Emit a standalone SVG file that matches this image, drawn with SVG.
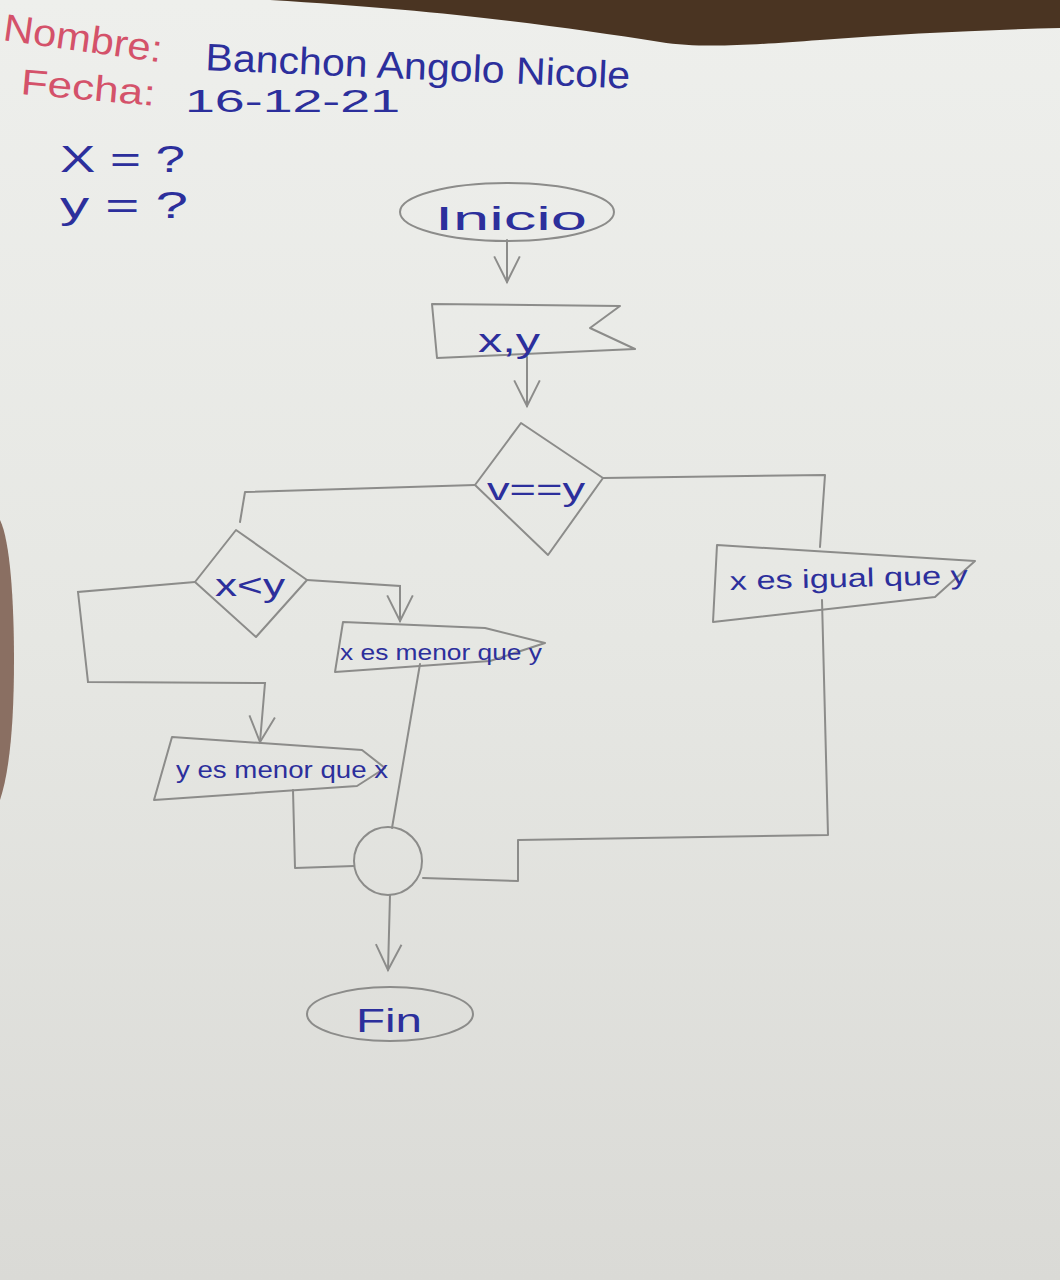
<svg xmlns="http://www.w3.org/2000/svg" width="1060" height="1280" viewBox="0 0 1060 1280">
  <defs>
    <linearGradient id="paper" x1="0" y1="0" x2="0" y2="1">
      <stop offset="0" stop-color="#eeefec"/>
      <stop offset="0.5" stop-color="#e6e7e3"/>
      <stop offset="1" stop-color="#dadad6"/>
    </linearGradient>
    <marker id="v" viewBox="0 0 20 20" refX="18" refY="10" markerWidth="32" markerHeight="32" markerUnits="userSpaceOnUse" orient="auto">
      <path d="M2,2 L18,10 L2,18" fill="none" stroke="#8c8c8a" stroke-width="1.2"/>
    </marker>
    <style>
      .pencil { fill: none; stroke: #8c8c8a; stroke-width: 2; stroke-linejoin: round; stroke-linecap: round; }
      .ink { fill: #2c2f9c; font-family: "Liberation Sans", "DejaVu Sans", sans-serif; }
      .red { fill: #d4526a; font-family: "Liberation Sans", "DejaVu Sans", sans-serif; }
      .arrow { fill: none; stroke: #8c8c8a; stroke-width: 2; stroke-linecap: round; }
    </style>
  </defs>

  <!-- background paper and surroundings -->
  <rect x="0" y="0" width="1060" height="1280" fill="url(#paper)"/>
  <path d="M270,0 L1060,0 L1060,28 C980,30 900,34 820,40 C740,46 700,48 660,42 C560,26 440,10 270,0 Z" fill="#4a3422"/>
  <path d="M0,520 C10,540 14,600 14,660 C14,720 10,770 0,800 Z" fill="#8a6f62"/>

  <!-- header texts -->
  <g id="header">
    <text class="red" x="2" y="40" font-size="38" transform="rotate(8 2 40)" textLength="160" lengthAdjust="spacingAndGlyphs">Nombre:</text>
    <text class="ink" x="205" y="70" font-size="38" transform="rotate(2.5 205 70)" textLength="425" lengthAdjust="spacingAndGlyphs">Banchon Angolo Nicole</text>
    <text class="red" x="20" y="94" font-size="36" transform="rotate(5 20 94)" textLength="135" lengthAdjust="spacingAndGlyphs">Fecha:</text>
    <text class="ink" x="185" y="112" font-size="32" textLength="215" lengthAdjust="spacingAndGlyphs">16-12-21</text>
    <text class="ink" x="60" y="172" font-size="36" textLength="125" lengthAdjust="spacingAndGlyphs">X = ?</text>
    <text class="ink" x="60" y="218" font-size="36" textLength="128" lengthAdjust="spacingAndGlyphs">y = ?</text>
  </g>

  <!-- connectors -->
  <g id="connectors">
    <path class="arrow" d="M507,240 L507,282" marker-end="url(#v)"/>
    <path class="arrow" d="M527,357 L527,406" marker-end="url(#v)"/>
    <!-- v==y left branch to x<y -->
    <path class="pencil" d="M475,485 L245,492 L240,522"/>
    <!-- v==y right branch to x es igual que y -->
    <path class="pencil" d="M603,478 L825,475 L820,547"/>
    <!-- x<y right branch -->
    <path class="arrow" d="M307,580 L400,586 L400,621" marker-end="url(#v)"/>
    <!-- x<y left branch -->
    <path class="arrow" d="M195,582 L78,592 L88,682 L265,683 L260,742" marker-end="url(#v)"/>
    <!-- x es menor que y to connector -->
    <path class="pencil" d="M420,664 L392,828"/>
    <!-- y es menor que x to connector -->
    <path class="pencil" d="M293,790 L295,868 L354,866"/>
    <!-- x es igual que y to connector -->
    <path class="pencil" d="M822,600 L828,835 L518,840 L518,881 L423,878"/>
    <!-- connector to Fin -->
    <path class="arrow" d="M390,895 L388,970" marker-end="url(#v)"/>
  </g>

  <g id="inicio">
    <ellipse class="pencil" cx="507" cy="212" rx="107" ry="29"/>
    <text class="ink" x="435" y="230" font-size="34" textLength="152" lengthAdjust="spacingAndGlyphs">Inicio</text>
  </g>

  <g id="entrada">
    <path class="pencil" d="M432,304 L620,306 L590,328 L635,349 L437,358 Z"/>
    <text class="ink" x="478" y="352" font-size="34" textLength="62" lengthAdjust="spacingAndGlyphs">x,y</text>
  </g>

  <g id="decision1">
    <path class="pencil" d="M521,423 L603,478 L548,555 L475,485 Z"/>
    <text class="ink" x="487" y="500" font-size="32" textLength="98" lengthAdjust="spacingAndGlyphs">v==y</text>
  </g>

  <g id="decision2">
    <path class="pencil" d="M236,530 L307,580 L256,637 L195,582 Z"/>
    <text class="ink" x="215" y="596" font-size="32" textLength="70" lengthAdjust="spacingAndGlyphs">x&lt;y</text>
  </g>

  <g id="salida_menor_x">
    <path class="pencil" d="M343,622 L485,628 L545,643 L490,661 L335,672 Z"/>
    <text class="ink" x="340" y="660" font-size="22" textLength="202" lengthAdjust="spacingAndGlyphs">x es menor que y</text>
  </g>

  <g id="salida_menor_y">
    <path class="pencil" d="M172,737 L362,750 L385,768 L357,786 L154,800 Z"/>
    <text class="ink" x="176" y="778" font-size="24" textLength="212" lengthAdjust="spacingAndGlyphs">y es menor que x</text>
  </g>

  <g id="salida_igual">
    <path class="pencil" d="M717,545 L975,561 L935,597 L713,622 Z"/>
    <text class="ink" x="730" y="590" font-size="26" transform="rotate(-1.5 730 590)" textLength="238" lengthAdjust="spacingAndGlyphs">x es igual que y</text>
  </g>

  <g id="conector">
    <circle class="pencil" cx="388" cy="861" r="34"/>
  </g>

  <g id="fin">
    <ellipse class="pencil" cx="390" cy="1014" rx="83" ry="27"/>
    <text class="ink" x="356" y="1032" font-size="34" textLength="66" lengthAdjust="spacingAndGlyphs">Fin</text>
  </g>
</svg>
